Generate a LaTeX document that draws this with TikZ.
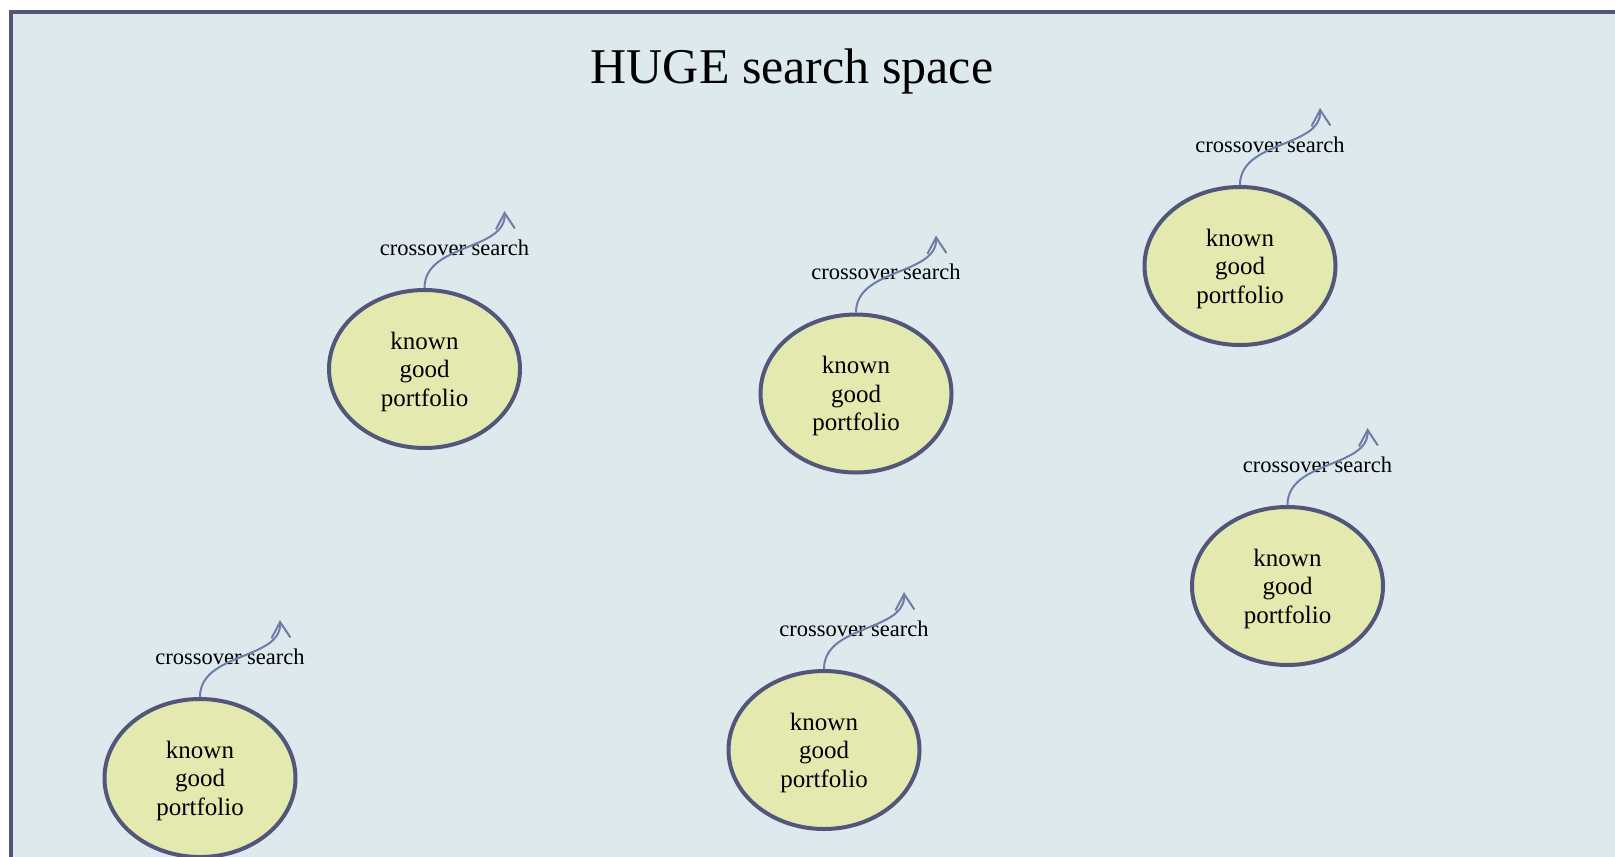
\documentclass[tikz,border=0pt]{standalone}
\usepackage{fontspec}
\setmainfont{Liberation Serif}
\usetikzlibrary{shapes.geometric,arrows.meta}
\definecolor{bgc}{RGB}{222,233,238}
\definecolor{framec}{RGB}{82,87,122}
\definecolor{fillc}{RGB}{228,233,176}
\definecolor{arrc}{RGB}{112,124,166}
\tikzset{
  portf/.style={ellipse, draw=framec, line width=4pt, fill=fillc, minimum width=191pt, minimum height=158pt, inner sep=0pt, align=center, font=\fontsize{25}{28.5}\selectfont},
  lbl/.style={anchor=base, inner sep=0pt, font=\fontsize{22.5}{26}\selectfont},
  arr/.style={draw=arrc, line width=2pt, -{Straight Barb[length=16pt,width=19pt,line width=2pt]}},
}
\newcommand{\kgp}{\rule{0pt}{23pt}known\\good\\portfolio}
\begin{document}
\begin{tikzpicture}[x=1pt,y=-1pt]
\useasboundingbox (0,0) rectangle (1615,857);
\path[fill=white] (0,0) rectangle (1615,857);
\draw[framec, line width=4pt, fill=bgc] (11,12) rectangle (1650,900);
\node[anchor=base, inner sep=0pt, font=\fontsize{50}{60}\selectfont] (title) at (792,83) {HUGE search space};
\node[portf] (e1) at (424.5,369) {\kgp};
\node[portf] (e2) at (856,393.5) {\kgp};
\node[portf] (e3) at (1240,266) {\kgp};
\node[portf] (e4) at (1287.5,586) {\kgp};
\node[portf] (e5) at (200,778) {\kgp};
\node[portf] (e6) at (824,750) {\kgp};
\foreach \i in {1,...,6}{
  \node[lbl] (l\i) at ([shift={(30,-114)}]e\i.center) {crossover search};
  \coordinate (t\i) at ([shift={(80,-77)}]e\i.north);
  \draw[arr] (e\i.north) .. controls +(0,-45) and +(2,40) .. (t\i);
}
\end{tikzpicture}
\end{document}
